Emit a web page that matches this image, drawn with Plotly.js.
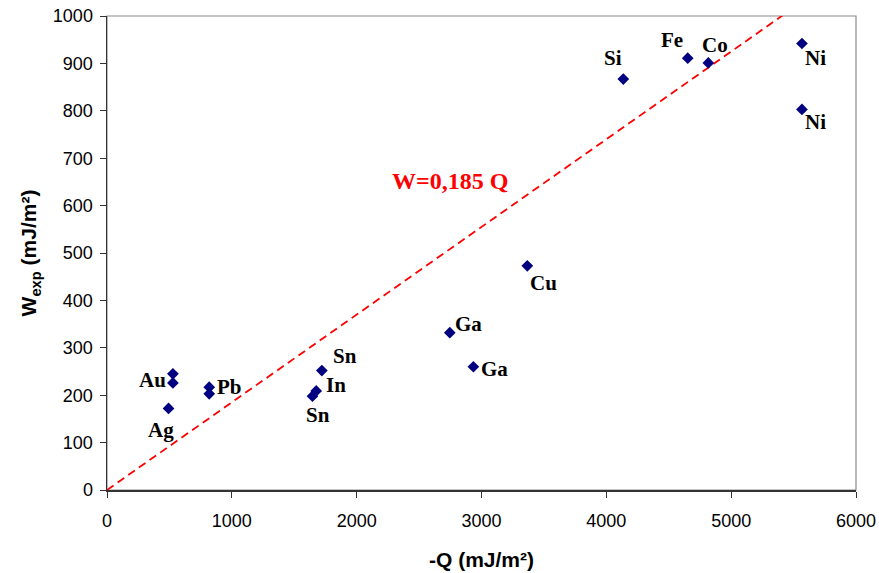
<!DOCTYPE html>
<html>
<head>
<meta charset="utf-8">
<script src="https://cdn.plot.ly/plotly-3.0.1.min.js"></script>
<style>html,body{margin:0;padding:0;background:#fff;}#chart{width:879px;height:573px;}</style>
</head>
<body>
<div id="chart"></div>
<script>
// Data
const elements = ["Au", "Au", "Ag", "Pb", "Pb", "Sn", "In", "Sn", "Ga", "Ga", "Cu", "Si", "Fe", "Co", "Ni", "Ni"];
const negQ = [528, 528, 493, 819, 819, 1721, 1676, 1646, 2746, 2935, 3367, 4136, 4652, 4817, 5567, 5567];
const Wexp = [245, 226, 172, 217, 203, 252, 209, 198, 332, 260, 473, 867, 911, 901, 942, 803];
const showLabel = [true, false, true, true, false, true, true, true, true, true, true, true, true, true, true, true];
const fitSlope = 0.185;
const fitLabel = "W=0,185 Q";
const xTicks = [0, 1000, 2000, 3000, 4000, 5000, 6000];
const yTicks = [0, 100, 200, 300, 400, 500, 600, 700, 800, 900, 1000];

// label offsets (pixels: dx, dy-up) relative to point
const labelOffsets = [
  [-20, -6], null, [-8, -22], [20, 0], null,
  [23, 15], [20, 6], [6, -19],
  [19, 9], [21, -2], [16, -17],
  [-10, 21], [-16, 18], [7, 18],
  [14, -15], [14, -13]
];

const fitX = [0, 1000 / fitSlope * 1.013];
const fitY = fitX.map(q => fitSlope * q);

const traces = [
  {
    x: fitX, y: fitY, mode: "lines", type: "scatter",
    line: {color: "#ff0000", width: 1.8, dash: "8px,5px"},
    hoverinfo: "skip", cliponaxis: false
  },
  {
    x: negQ, y: Wexp, mode: "markers", type: "scatter",
    marker: {symbol: "diamond", size: 9, color: "#000080"},
    cliponaxis: false
  }
];

const labelFont = {family: "Liberation Serif, Times New Roman, serif", size: 21, color: "#000"};
const annotations = [];
elements.forEach((el, i) => {
  if (!showLabel[i]) return;
  const o = labelOffsets[i];
  annotations.push({
    x: negQ[i], y: Wexp[i], xref: "x", yref: "y", text: "<b>" + el + "</b>",
    showarrow: false, xshift: o[0], yshift: o[1], xanchor: "center", yanchor: "middle",
    font: labelFont
  });
});
annotations.push({
  x: 2749, y: 651, xref: "x", yref: "y", text: "<b>" + fitLabel + "</b>",
  showarrow: false, xanchor: "center", yanchor: "middle",
  font: {family: "Liberation Serif, Times New Roman, serif", size: 24, color: "#ff0000"}
});

const axisFont = {family: "Liberation Sans, Arial, sans-serif", size: 18, color: "#000"};
const titleFont = {family: "Liberation Sans, Arial, sans-serif", size: 21, color: "#000"};
const layout = {
  width: 879, height: 573,
  margin: {l: 107, r: 23, t: 16, b: 83},
  paper_bgcolor: "#fff", plot_bgcolor: "#fff",
  showlegend: false,
  xaxis: {
    range: [0, 6000], tickvals: xTicks, ticktext: xTicks.map(String),
    showgrid: false, zeroline: false, showline: true, linecolor: "#333", linewidth: 1.5,
    ticks: "outside", ticklen: 6, tickcolor: "#333", tickfont: axisFont, ticklabelstandoff: 8,
    title: {text: "<b>-Q (mJ/m²)</b>", font: titleFont, standoff: 22}
  },
  yaxis: {
    range: [0, 1000], tickvals: yTicks, ticktext: yTicks.map(String),
    showgrid: false, zeroline: false, showline: true, linecolor: "#333", linewidth: 1.5,
    ticks: "outside", ticklen: 6, tickcolor: "#333", tickfont: axisFont, ticklabelstandoff: 3,
    title: {text: "<b>W<sub>exp</sub> (mJ/m²)</b>", font: titleFont, standoff: 10}
  },
  shapes: [{
    type: "rect", xref: "paper", yref: "paper", x0: 0, x1: 1, y0: 0, y1: 1,
    line: {color: "#8c8c8c", width: 1.2}, layer: "below"
  }],
  annotations: annotations
};

Plotly.newPlot("chart", traces, layout, {displayModeBar: false, staticPlot: true});
</script>
</body>
</html>
